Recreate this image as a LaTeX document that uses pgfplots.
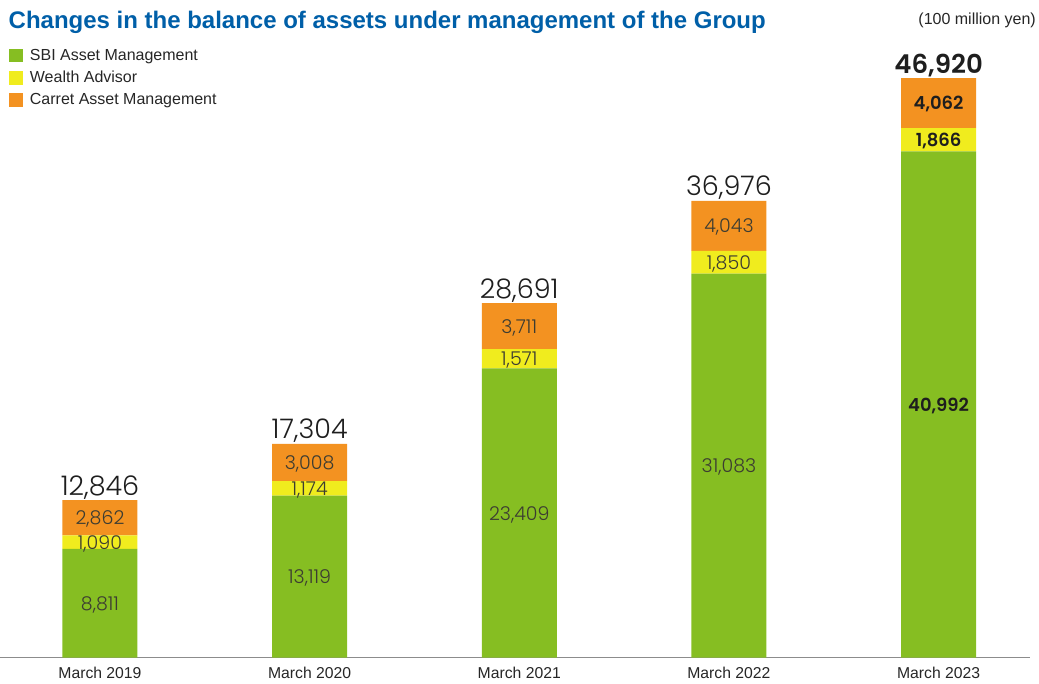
\documentclass[border=0pt]{standalone}
\usepackage{pgfplots}
\pgfplotsset{compat=1.18}
\usepackage{pgfplotstable}
\usepackage{fontspec}
\setmainfont{Liberation Sans}
\newfontfamily\numlight{Poppins Light}
\newfontfamily\numbold{Poppins SemiBold}
\definecolor{sbigreen}{RGB}{134,190,34}
\definecolor{wayellow}{RGB}{240,236,30}
\definecolor{carorange}{RGB}{243,146,33}
\definecolor{titleblue}{RGB}{0,95,168}
\definecolor{lblink}{RGB}{60,60,50}
\definecolor{totink}{RGB}{30,30,30}

% segment values
\pgfplotstableread{
x sbi wealth carret
0 8811 1090 2862
1 13119 1174 3008
2 23409 1571 3711
3 31083 1850 4043
4 40992 1866 4062
}\bars
% label positions (middle of each segment) and texts
\pgfplotstableread{
x y lab
0 4405 8,811
1 6560 13,119
2 11705 23,409
3 15542 31,083
0 9356 1,090
1 13706 1,174
2 24195 1,571
3 32008 1,850
0 11332 2,862
1 15797 3,008
2 26836 3,711
3 34955 4,043
}\seglabs
\pgfplotstableread{
x y lab
4 20496 40,992
4 41925 1,866
4 44889 4,062
}\seglabsb
\pgfplotstableread{
x y lab
0 12763 12,846
1 17301 17,304
2 28691 28,691
3 36976 36,976
}\totals
\pgfplotstableread{
x y lab
4 46920 46,920
}\totalsb

\pgfplotsset{base/.style={scale only axis, width=1030bp, height=658bp,
  xmin=-0.4744, xmax=4.436, ymin=0, ymax=53236, clip=false}}

\begin{document}
\begin{tikzpicture}
\begin{axis}[base,
  ybar stacked, bar width=0.3576,
  axis x line*=bottom, axis y line=none,
  axis line style={draw=black!45, line width=1pt},
  xtick={0,1,2,3,4},
  xticklabels={March 2019,March 2020,March 2021,March 2022,March 2023},
  major tick length=0pt,
  xticklabel style={font=\fontsize{15.75bp}{18bp}\selectfont, text=black!85, yshift=-6bp},
  ytick=\empty,
  legend style={draw=none, fill=none, at={(0.0087,0.9286)}, anchor=north west,
    inner sep=0pt, outer sep=0pt, row sep=5.5bp,
    font=\fontsize{16bp}{19bp}\selectfont, text=black!85,
    /tikz/every odd column/.append style={column sep=5bp}},
  legend cell align=left,
  legend image code/.code={\fill[#1] (0bp,-7bp) rectangle (13.5bp,6.5bp);},
]
\addplot[draw=none, fill=sbigreen] table[x=x, y=sbi] {\bars};
\addlegendentry{SBI Asset Management}
\addplot[draw=none, fill=wayellow] table[x=x, y=wealth] {\bars};
\addlegendentry{Wealth Advisor}
\addplot[draw=none, fill=carorange] table[x=x, y=carret] {\bars};
\addlegendentry{Carret Asset Management}

\path ([yshift=-26bp]rel axis cs:0,0) rectangle ([xshift=9bp]rel axis cs:1,1);
\node[anchor=north west, inner sep=0pt, text=titleblue,
  font=\fontsize{24bp}{28bp}\selectfont\bfseries]
  at ([xshift=8bp,yshift=-11bp]rel axis cs:0,1)
  {Changes in the balance of assets under management of the Group};
\node[anchor=north east, inner sep=0pt, text=black!85,
  font=\fontsize{16bp}{19bp}\selectfont]
  at ([xshift=6bp,yshift=-13bp]rel axis cs:1,1) {(100 million yen)};
\end{axis}

\begin{axis}[base, hide axis,
  point meta=explicit symbolic,
  nodes near coords={\pgfplotspointmeta},
  lbl/.style={only marks, mark=*, mark options={draw=none, fill=none}, mark size=0pt}]
\addplot[lbl, every node near coord/.append style={anchor=center, inner sep=0pt,
    text depth=0pt, font=\numlight\fontsize{19bp}{22bp}\selectfont, text=lblink}]
  table[x=x, y=y, meta=lab] {\seglabs};
\addplot[lbl, every node near coord/.append style={anchor=center, inner sep=0pt,
    text depth=0pt, font=\numbold\fontsize{18bp}{22bp}\selectfont, text=totink}]
  table[x=x, y=y, meta=lab] {\seglabsb};
\addplot[lbl, every node near coord/.append style={anchor=base, inner sep=0pt,
    yshift=5bp, font=\numlight\fontsize{27bp}{30bp}\selectfont, text=totink}]
  table[x=x, y=y, meta=lab] {\totals};
\addplot[lbl, every node near coord/.append style={anchor=base, inner sep=0pt,
    yshift=5bp, font=\numbold\fontsize{26bp}{30bp}\selectfont, text=totink}]
  table[x=x, y=y, meta=lab] {\totalsb};
\end{axis}
\end{tikzpicture}
\end{document}
